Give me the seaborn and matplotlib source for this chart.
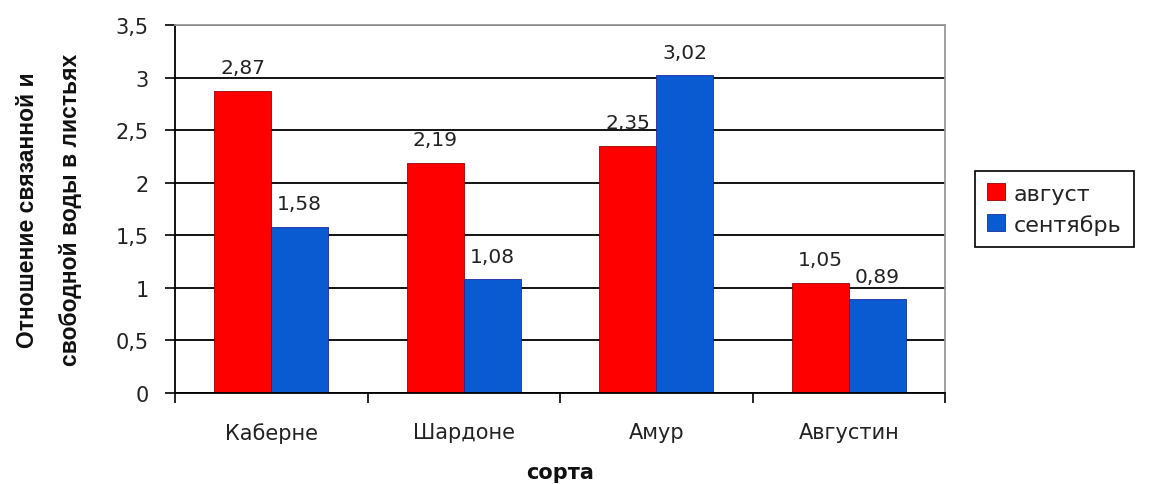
import matplotlib
matplotlib.use("Agg")
import matplotlib.pyplot as plt
import seaborn as sns
import pandas as pd
from matplotlib.ticker import FixedLocator, FuncFormatter
from matplotlib.patches import Patch

categories = ["Каберне", "Шардоне", "Амур", "Августин"]
series_names = ["август", "сентябрь"]
august = [2.87, 2.19, 2.35, 1.05]
september = [1.58, 1.08, 3.02, 0.89]
y_ticks = [0, 0.5, 1, 1.5, 2, 2.5, 3, 3.5]

df = pd.DataFrame({
    "сорт": categories * 2,
    "месяц": [series_names[0]] * 4 + [series_names[1]] * 4,
    "value": august + september,
})

sns.set_theme(style="white")
plt.rcParams['font.family'] = ['DejaVu Sans']

fig = plt.figure(figsize=(11.49, 4.85), dpi=100)
ax = fig.add_axes([175/1149, 1-394/485, (945-175)/1149, (394-26)/485])

palette = {"август": "#FF0000", "сентябрь": "#0A5AD2"}
edges = ["#9a0000", "#1a2a9a"]
sns.barplot(data=df, x="сорт", y="value", hue="месяц", palette=palette,
            width=0.59, ax=ax, saturation=1, legend=False, linewidth=0.6)
for c, ec in zip(ax.containers, edges):
    for p in c:
        p.set_edgecolor(ec)
    ax.bar_label(c, labels=[f"{v:.2f}".replace(".", ",") for v in c.datavalues],
                 padding=10, fontsize=14.5, color="#222222")

ax.set_ylim(0, 3.5)
ax.set_xlim(-0.5, 3.5)
ax.set_yticks(y_ticks)
ax.yaxis.set_major_formatter(FuncFormatter(lambda v, p: (f"{v:g}").replace(".", ",")))
ax.grid(axis="y", color="black", linewidth=1.3)
ax.set_axisbelow(True)

ax.xaxis.set_major_locator(FixedLocator([-0.5, 0.5, 1.5, 2.5, 3.5]))
ax.xaxis.set_major_formatter(FuncFormatter(lambda v, p: ""))
ax.set_xticks([0, 1, 2, 3], minor=True)
ax.set_xticklabels(categories, minor=True, fontsize=15, color="#222222")
ax.tick_params(axis="x", which="minor", length=0, pad=21)
ax.tick_params(axis="x", which="major", length=7, width=1.2, color="black", direction="out", bottom=True)
ax.tick_params(axis="y", length=7, width=1.2, color="black", direction="out", left=True,
               labelsize=15, labelcolor="#222222", pad=12)

for s in ["left", "bottom"]:
    ax.spines[s].set_color("black")
    ax.spines[s].set_linewidth(1.3)
for s in ["top", "right"]:
    ax.spines[s].set_visible(True)
    ax.spines[s].set_color("#999999")
    ax.spines[s].set_linewidth(1.3)

ax.set_xlabel("сорта", fontsize=15, fontweight="bold", labelpad=14, color="#111111")
ax.set_ylabel("Отношение связанной и\nсвободной воды в листьях", fontsize=16.5,
              fontweight="bold", labelpad=24, linespacing=2.1, color="#111111",
              family=['Liberation Sans', 'DejaVu Sans'])

handles = [Patch(facecolor=palette[n], edgecolor=ec, linewidth=0.6)
           for n, ec in zip(series_names, edges)]
leg = fig.legend(handles, series_names, loc="center left",
                 bbox_to_anchor=(975/1149, 1-210/485), fontsize=16,
                 frameon=True, fancybox=False, edgecolor="black", framealpha=1,
                 handlelength=0.8, handleheight=0.8, handletextpad=0.4,
                 borderpad=0.55, labelspacing=0.45, borderaxespad=0)
leg.get_frame().set_linewidth(1.2)
for t in leg.get_texts():
    t.set_color("#222222")

fig.savefig("out.png", dpi=100)
